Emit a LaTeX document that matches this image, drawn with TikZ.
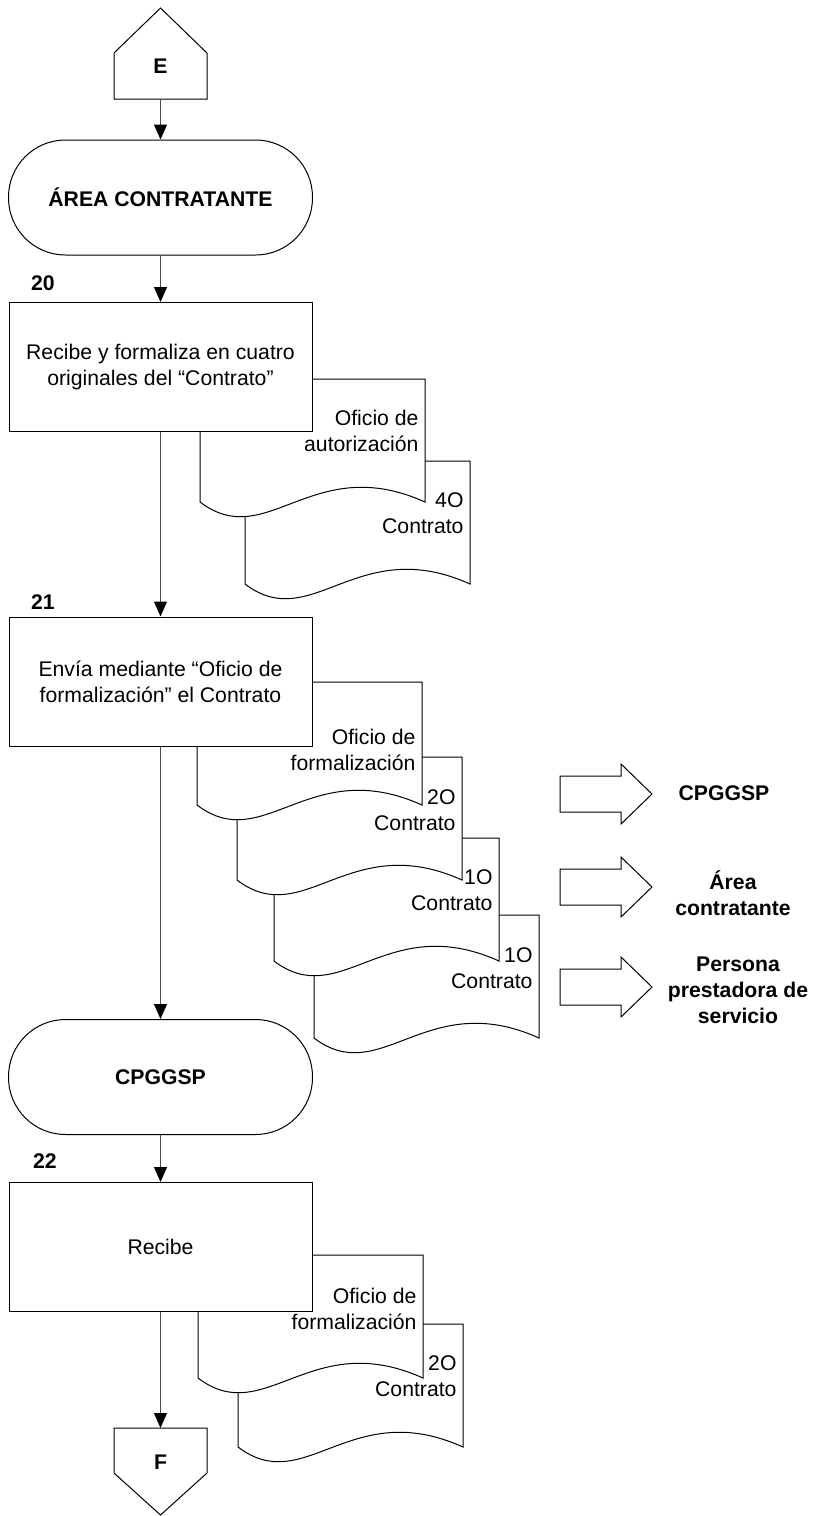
\documentclass[tikz,border=0pt]{standalone}
\usepackage{fontspec}
\setmainfont{Liberation Sans}
\usetikzlibrary{arrows.meta}
\newcommand\basefont{\fontsize{21.2}{26}\selectfont}

\begin{document}
\begin{tikzpicture}[x=1pt,y=-1pt,>={Triangle[length=15pt,width=13pt,color=black]},font=\basefont,line width=1pt,
 proc/.style={draw,fill=white,align=center,minimum width=303pt,minimum height=129pt},
 term/.style={draw,fill=white,rounded corners=57pt,minimum width=304pt,minimum height=115pt,font=\basefont\bfseries},
 num/.style={font=\basefont\bfseries},
 dtxt/.style={anchor=east,align=right,inner sep=0pt},
 dest/.style={align=center,inner sep=0pt,font=\basefont\bfseries},
 flow/.style={->,draw=black!70},
 paper/.pic={\draw[fill=white] (0,0) -- (225,0) -- (225,123) .. controls (112,72) and (67,174) .. (0,123) -- cycle;},
 fatarrow/.pic={\draw (0,-18) -- (61,-18) -- (61,-30) -- (92,0) -- (61,30) -- (61,18) -- (0,18) -- cycle;}]
\useasboundingbox (0,0) rectangle (821,1516);
% entrada
\draw (114,53) -- (160.5,8) -- (207,53) -- (207,99) -- (114,99) -- cycle;
\node[num] (e) at (160.5,66) {E};
\coordinate (eb) at (160.5,99);
\node[term] (t1) at (160.5,197.5) {ÁREA CONTRATANTE};
% 20
\pic at (245,461) {paper};
\node[dtxt] (d2) at (464,513) {4O\\Contrato};
\pic at (200,379) {paper};
\node[dtxt] (d1) at (419,431) {Oficio de\\autorización};
\node[proc] (p20) at (160.5,367) {Recibe y formaliza en cuatro\\originales del “Contrato”};
\node[num] (n20) at (43,283) {20};
% 21
\pic at (314,915) {paper};
\node[dtxt] (d6) at (533,968) {1O\\Contrato};
\pic at (274,838) {paper};
\node[dtxt] (d5) at (493,890) {1O\\Contrato};
\pic at (237,757) {paper};
\node[dtxt] (d4) at (456,810) {2O\\Contrato};
\pic at (197,682) {paper};
\node[dtxt] (d3) at (416,750) {Oficio de\\formalización};
\node[proc] (p21) at (160.5,681.5) {Envía mediante “Oficio de\\formalización” el Contrato};
\node[num] (n21) at (43,602) {21};
% destinos
\pic at (560,794) {fatarrow};
\pic at (560,887) {fatarrow};
\pic at (560,987) {fatarrow};
\node[dest] (r1) at (724,793) {CPGGSP};
\node[dest] (r2) at (733,893) {Área\\contratante};
\node[dest] (r3) at (738,990) {Persona\\prestadora de\\servicio};
\node[term] (t2) at (160.5,1077) {CPGGSP};
% 22
\pic at (238,1324) {paper};
\node[dtxt] (d8) at (457,1376) {2O\\Contrato};
\pic at (198,1255) {paper};
\node[dtxt] (d7) at (417,1309) {Oficio de\\formalización};
\node[proc] (p22) at (160.5,1247) {Recibe};
\node[num] (n22) at (45,1161) {22};
% salida
\draw (114,1428) -- (207,1428) -- (207,1473) -- (160.5,1515) -- (114,1473) -- cycle;
\node[num] (f) at (160.5,1462) {F};
\coordinate (ft) at (160.5,1428);
\draw[flow] (eb) -- (t1);
\draw[flow] (t1) -- (p20);
\draw[flow] (p20) -- (p21);
\draw[flow] (p21) -- (t2);
\draw[flow] (t2) -- (p22);
\draw[flow] (p22) -- (ft);
\end{tikzpicture}
\end{document}
